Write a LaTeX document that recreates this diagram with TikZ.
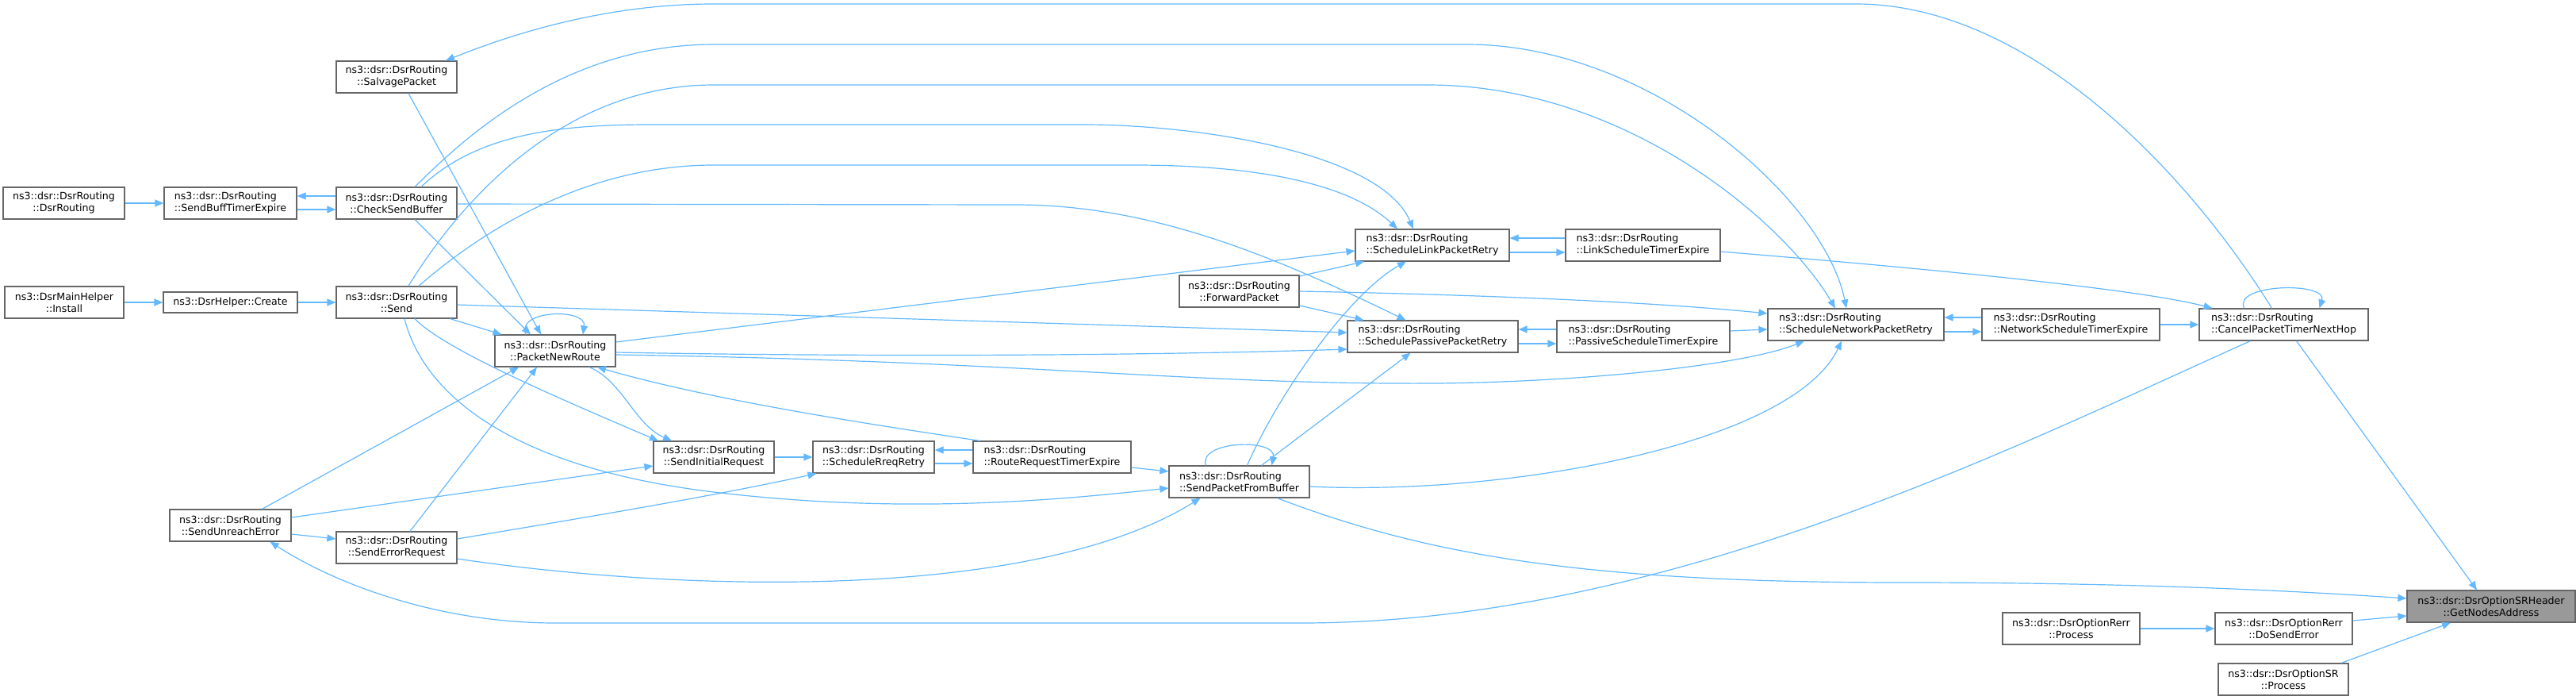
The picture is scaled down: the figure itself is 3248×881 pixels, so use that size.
\documentclass[tikz,border=0pt]{standalone}
\usepackage{fontspec}
\setmainfont{DejaVu Sans}
\usetikzlibrary{arrows.meta}
\definecolor{edgeblue}{HTML}{63B8FF}
\definecolor{boxgray}{HTML}{666666}
\definecolor{hlgray}{HTML}{999999}

\begin{document}
\begin{tikzpicture}[x=1pt, y=-1pt,
  fn/.style={draw=boxgray, line width=1.2pt, fill=white, align=center,
    inner xsep=2pt, inner ysep=1pt, minimum width=#1, minimum height=40pt,
    font=\fontsize{12.6}{15}\selectfont},
  fnl/.style={fn=#1, align=left},
  call/.style={draw=edgeblue, line width=1.2pt, -{Triangle[length=11pt,width=9pt]}}]

\useasboundingbox (0,0) rectangle (3248,881);

\node[fn=153] (dsrr)    at (80.5,256)  {ns3::dsr::DsrRouting\\::DsrRouting};
\node[fn=150] (install) at (81,381)    {ns3::DsrMainHelper\\::Install};
\node[fnl=167] (sbte)   at (290.5,256) {ns3::dsr::DsrRouting\\::SendBuffTimerExpire};
\node[fn=169, minimum height=26pt] (create) at (290.5,381) {ns3::DsrHelper::Create};
\node[fn=152] (salvage) at (500,97)    {ns3::dsr::DsrRouting\\::SalvagePacket};
\node[fn=152] (csb)     at (500,256)   {ns3::dsr::DsrRouting\\::CheckSendBuffer};
\node[fn=152] (send)    at (500,381)   {ns3::dsr::DsrRouting\\::Send};
\node[fn=153] (unreach) at (290.5,662) {ns3::dsr::DsrRouting\\::SendUnreachError};
\node[fn=152] (errreq)  at (500,690)   {ns3::dsr::DsrRouting\\::SendErrorRequest};
\node[fn=152] (pnr)     at (700,442)   {ns3::dsr::DsrRouting\\::PacketNewRoute};
\node[fn=152] (sir)     at (900,576)   {ns3::dsr::DsrRouting\\::SendInitialRequest};
\node[fn=153] (srr)     at (1101.5,576) {ns3::dsr::DsrRouting\\::ScheduleRreqRetry};
\node[fnl=199] (rrte)   at (1326.5,576) {ns3::dsr::DsrRouting\\::RouteRequestTimerExpire};
\node[fnl=177] (spfb)   at (1562.5,607) {ns3::dsr::DsrRouting\\::SendPacketFromBuffer};
\node[fn=151] (fwd)     at (1562.5,367) {ns3::dsr::DsrRouting\\::ForwardPacket};
\node[fnl=194] (slpr)   at (1806,309)   {ns3::dsr::DsrRouting\\::ScheduleLinkPacketRetry};
\node[fnl=215] (sppr)   at (1806.5,424) {ns3::dsr::DsrRouting\\::SchedulePassivePacketRetry};
\node[fnl=195] (lste)   at (2071.5,309) {ns3::dsr::DsrRouting\\::LinkScheduleTimerExpire};
\node[fnl=218] (pste)   at (2072,424)   {ns3::dsr::DsrRouting\\::PassiveScheduleTimerExpire};
\node[fnl=222] (snpr)   at (2340,409)   {ns3::dsr::DsrRouting\\::ScheduleNetworkPacketRetry};
\node[fnl=224] (nste)   at (2611,409)   {ns3::dsr::DsrRouting\\::NetworkScheduleTimerExpire};
\node[fnl=213] (cptnh)  at (2879.5,409) {ns3::dsr::DsrRouting\\::CancelPacketTimerNextHop};
\node[fn=212, fill=hlgray] (gna) at (3141,764) {ns3::dsr::DsrOptionSRHeader\\::GetNodesAddress};
\node[fn=173] (dse)     at (2879.5,792) {ns3::dsr::DsrOptionRerr\\::DoSendError};
\node[fn=173] (rerrp)   at (2611.5,792) {ns3::dsr::DsrOptionRerr\\::Process};
\node[fn=164] (srp)     at (2879,856)   {ns3::dsr::DsrOptionSR\\::Process};

% left part
\draw[call] (dsrr) -- (sbte);
\draw[call] ([yshift=-8]sbte.east) -- ([yshift=-8]csb.west);
\draw[call] ([yshift=9]csb.west) -- ([yshift=9]sbte.east);
\draw[call] (install) -- (create);
\draw[call] (create) -- (send);

% into PacketNewRoute
\draw[call] (send) -- (pnr);
\draw[call] ([xshift=15]salvage.south) -- ([xshift=-18]pnr.north);
\draw[call] ([xshift=23]csb.south) -- ([xshift=-31]pnr.north);
\draw[call] ([xshift=-37]pnr.north) .. controls (650,390) and (740,388) .. ([xshift=35]pnr.north);
\draw[call] ([xshift=40]unreach.north) -- ([xshift=-46]pnr.south);
\draw[call] ([xshift=17]errreq.north) -- ([xshift=-23]pnr.south);
\draw[call] ([xshift=-91]rrte.north) .. controls (1100,535) and (900,505) .. ([xshift=53]pnr.south);

% error path
\draw[call] ([yshift=-11]unreach.east) -- ([yshift=11]errreq.west);
\draw[call] ([xshift=-42]cptnh.south) .. controls (2537,564) and (2100,785) .. (1640,785) -- (700,785) .. controls (560,785) and (430,740) .. ([xshift=50]unreach.south);
\draw[call] ([xshift=-15]cptnh.north) .. controls (2760,220) and (2560,5) .. (2340,5) -- (900,5) .. controls (760,5) and (640,45) .. ([xshift=62]salvage.north);

% route request
\draw[call] ([xshift=23]send.south) .. controls (560,440) and (700,500) .. ([xshift=-70]sir.north);
\draw[call] ([xshift=43]pnr.south) .. controls (785,480) and (800,535) .. ([xshift=-53]sir.north);
\draw[call] ([yshift=10]unreach.east) -- ([yshift=-11]sir.west);
\draw[call] (sir) -- (srr);
\draw[call] ([yshift=11]errreq.east) .. controls (750,650) and (900,625) .. ([xshift=-72]srr.south);
\draw[call] ([yshift=9]rrte.west) -- ([yshift=9]srr.east);
\draw[call] ([yshift=-8]srr.east) -- ([yshift=-8]rrte.west);
\draw[call] ([yshift=-13]rrte.east) -- ([yshift=13]spfb.west);

% SendPacketFromBuffer
\draw[call] ([xshift=10]send.south) .. controls (535,500) and (650,590) .. (900,620) .. controls (1150,650) and (1350,628) .. ([yshift=-8]spfb.west);
\draw[call] ([yshift=-14]errreq.east) .. controls (850,745) and (1300,760) .. ([xshift=-49]spfb.south);
\draw[call] ([xshift=-42]spfb.north) .. controls (1510,555) and (1610,552) .. ([xshift=41]spfb.north);
\draw[call] ([xshift=10]spfb.north) .. controls (1610,500) and (1700,370) .. ([xshift=-33]slpr.south);
\draw[call] ([xshift=28]spfb.north) -- ([xshift=-28]sppr.south);
\draw[call] ([yshift=-6]spfb.east) .. controls (1900,625) and (2260,560) .. ([xshift=-18]snpr.south);
\draw[call] ([xshift=48]spfb.south) .. controls (1800,700) and (2000,734) .. (2400,734) .. controls (2700,734) and (2900,745) .. ([yshift=10]gna.west);

% retry functions
\draw[call] ([xshift=23]csb.north) .. controls (570,190) and (700,56) .. (900,56) -- (1850,56) .. controls (2080,56) and (2300,250) .. ([xshift=-12]snpr.north);
\draw[call] ([xshift=15]send.north) .. controls (570,270) and (700,107) .. (900,107) -- (1800,107) .. controls (2050,107) and (2250,280) .. ([xshift=-26]snpr.north);
\draw[call] ([xshift=31]csb.north) .. controls (600,170) and (700,157) .. (820,157) -- (1350,157) .. controls (1500,155) and (1740,190) .. ([xshift=-24]slpr.north);
\draw[call] ([xshift=28]send.north) .. controls (620,280) and (750,208) .. (900,208) -- (1430,208) .. controls (1580,208) and (1700,230) .. ([xshift=-44]slpr.north);
\draw[call] ([yshift=-1]csb.east) -- (1280,258) .. controls (1450,258) and (1600,320) .. ([xshift=-34]sppr.north);
\draw[call] ([yshift=11]pnr.east) -- ([yshift=-7]slpr.west);
\draw[call] ([yshift=-2]pnr.east) .. controls (1100,450) and (1450,448) .. ([yshift=-16]sppr.west);
\draw[call] ([yshift=-5]pnr.east) .. controls (1300,455) and (1500,485) .. (1812,483) .. controls (2000,481) and (2200,460) .. ([xshift=-65]snpr.south);
\draw[call] ([yshift=-3]send.east) -- ([yshift=5]sppr.west);
\draw[call] ([yshift=19]fwd.east) -- ([xshift=-86]slpr.south);
\draw[call] (fwd.east) .. controls (1900,372) and (2100,382) .. ([yshift=14]snpr.west);
\draw[call] ([yshift=-18]fwd.east) -- ([xshift=-87]sppr.north);

% timers
\draw[call] ([yshift=-9]slpr.east) -- ([yshift=-9]lste.west);
\draw[call] ([yshift=9]lste.west) -- ([yshift=9]slpr.east);
\draw[call] ([yshift=-9]sppr.east) -- ([yshift=-9]pste.west);
\draw[call] ([yshift=9]pste.west) -- ([yshift=9]sppr.east);
\draw[call] ([yshift=7]pste.east) -- ([yshift=-6]snpr.west);
\draw[call] ([yshift=-9]snpr.east) -- ([yshift=-9]nste.west);
\draw[call] ([yshift=9]nste.west) -- ([yshift=9]snpr.east);
\draw[call] (nste) -- (cptnh);
\draw[call] ([yshift=-8]lste.east) .. controls (2450,340) and (2700,365) .. ([xshift=-90]cptnh.north);
\draw[call] ([xshift=-50]cptnh.north) .. controls (2815,357) and (2935,355) .. ([xshift=45]cptnh.north);

% GetNodesAddress
\draw[call] ([xshift=16]cptnh.south) -- ([xshift=-18]gna.north);
\draw[call] ([yshift=10]dse.east) -- ([yshift=-12]gna.west);
\draw[call] ([xshift=73]srp.north) -- ([xshift=-51]gna.south);
\draw[call] (rerrp) -- (dse);
\end{tikzpicture}
\end{document}
